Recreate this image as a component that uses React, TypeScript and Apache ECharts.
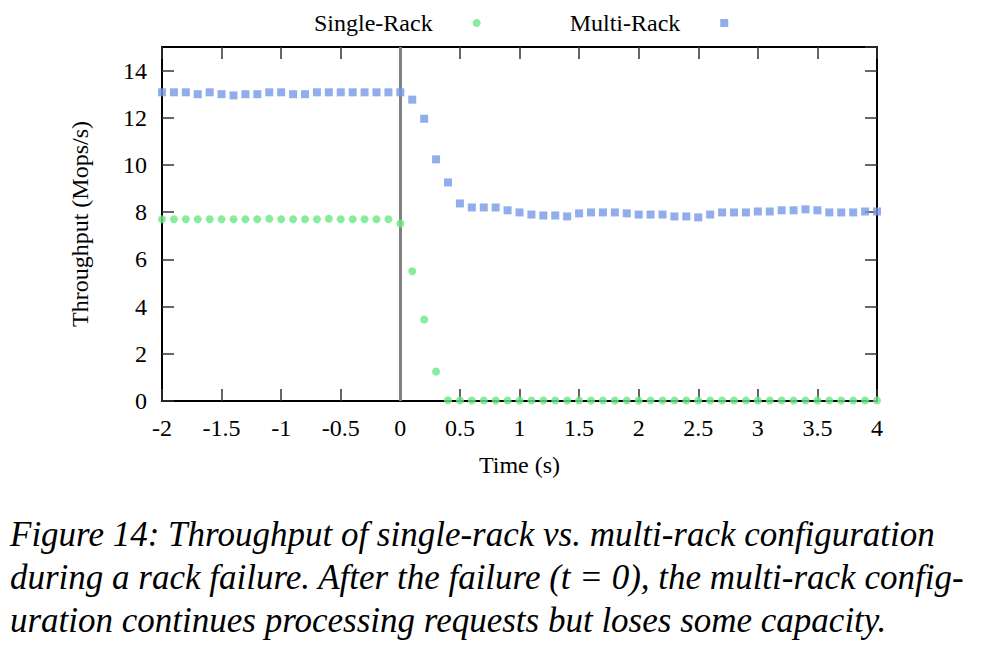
import React, { useEffect, useRef } from "react";
import * as echarts from "echarts";

const times = [
  -2.0, -1.9, -1.8, -1.7, -1.6, -1.5, -1.4, -1.3, -1.2, -1.1,
  -1.0, -0.9, -0.8, -0.7, -0.6, -0.5, -0.4, -0.3, -0.2, -0.1,
  0.0, 0.1, 0.2, 0.3, 0.4, 0.5, 0.6, 0.7, 0.8, 0.9,
  1.0, 1.1, 1.2, 1.3, 1.4, 1.5, 1.6, 1.7, 1.8, 1.9,
  2.0, 2.1, 2.2, 2.3, 2.4, 2.5, 2.6, 2.7, 2.8, 2.9,
  3.0, 3.1, 3.2, 3.3, 3.4, 3.5, 3.6, 3.7, 3.8, 3.9, 4.0,
];

const singleRack = [
  7.7, 7.7, 7.7, 7.7, 7.7, 7.7, 7.7, 7.7, 7.7, 7.72,
  7.7, 7.7, 7.7, 7.7, 7.72, 7.7, 7.7, 7.7, 7.7, 7.7,
  7.52, 5.5, 3.45, 1.25, 0.03, 0.02, 0.02, 0.02, 0.02, 0.02,
  0.02, 0.02, 0.02, 0.02, 0.02, 0.02, 0.02, 0.02, 0.02, 0.02,
  0.02, 0.02, 0.02, 0.02, 0.02, 0.02, 0.02, 0.02, 0.02, 0.02,
  0.02, 0.02, 0.02, 0.02, 0.02, 0.02, 0.02, 0.02, 0.02, 0.02, 0.02,
];

const multiRack = [
  13.08, 13.08, 13.08, 13.0, 13.08, 13.0, 12.95, 13.0, 13.0, 13.08,
  13.08, 13.0, 13.0, 13.08, 13.08, 13.08, 13.08, 13.08, 13.08, 13.08,
  13.08, 12.77, 11.96, 10.24, 9.26, 8.37, 8.2, 8.2, 8.2, 8.08,
  7.99, 7.9, 7.86, 7.86, 7.82, 7.95, 7.99, 7.99, 7.99, 7.95,
  7.9, 7.9, 7.9, 7.82, 7.82, 7.78, 7.9, 7.99, 7.99, 7.99,
  8.03, 8.03, 8.08, 8.08, 8.12, 8.08, 7.99, 7.99, 7.99, 8.03, 8.03,
];

const seriesNames = ["Single-Rack", "Multi-Rack"];
const captionLines = [
  "Figure 14: Throughput of single-rack vs. multi-rack configuration",
  "during a rack failure. After the failure (t = 0), the multi-rack config-",
  "uration continues processing requests but loses some capacity.",
];

const FONT = "'Liberation Serif', 'Times New Roman', serif";
const GREEN = "#69E884";
const BLUE = "#7599E6";
const FS = 24;

export default function App() {
  const ref = useRef<HTMLDivElement>(null);

  useEffect(() => {
    document.body.style.margin = "0";
    if (!ref.current) return;
    const chart = echarts.init(ref.current, null, { renderer: "svg" });

    const frameLine = { show: true, lineStyle: { color: "#000", width: 2 } };
    const tickStyle = { show: true, inside: true, length: 12, lineStyle: { color: "#333", width: 1.5 } };

    const option: any = {
      animation: false,
      backgroundColor: "#fff",
      textStyle: { fontFamily: FONT },
      legend: {
        left: 309,
        top: 6,
        align: "right",
        itemGap: 89,
        itemWidth: 8,
        itemHeight: 8,
        selectedMode: false,
        textStyle: { fontFamily: FONT, fontSize: FS, color: "#000", padding: [0, 35, 0, 0] },
        data: [
          { name: seriesNames[0], icon: "circle" },
          { name: seriesNames[1], icon: "rect" },
        ],
      },
      grid: { left: 162, right: 109, top: 47, bottom: 250 },
      xAxis: [
        {
          type: "value",
          min: -2,
          max: 4,
          interval: 0.5,
          name: "Time (s)",
          nameLocation: "middle",
          nameGap: 52,
          nameTextStyle: { fontFamily: FONT, fontSize: FS, color: "#000" },
          axisLine: { ...frameLine, onZero: false },
          axisTick: tickStyle,
          splitLine: { show: false },
          axisLabel: { fontFamily: FONT, fontSize: FS, color: "#000", margin: 15 },
        },
        {
          type: "value",
          position: "top",
          min: -2,
          max: 4,
          interval: 0.5,
          axisLine: { ...frameLine, onZero: false },
          axisTick: tickStyle,
          splitLine: { show: false },
          axisLabel: { show: false },
        },
      ],
      yAxis: [
        {
          type: "value",
          min: 0,
          max: 15,
          interval: 2,
          name: "Throughput (Mops/s)",
          nameLocation: "middle",
          nameGap: 70,
          nameTextStyle: { fontFamily: FONT, fontSize: FS, color: "#000" },
          axisLine: { ...frameLine, onZero: false },
          axisTick: tickStyle,
          splitLine: { show: false },
          axisLabel: { fontFamily: FONT, fontSize: FS, color: "#000", margin: 15, showMaxLabel: false },
        },
        {
          type: "value",
          position: "right",
          min: 0,
          max: 15,
          interval: 2,
          axisLine: { ...frameLine, onZero: false },
          axisTick: tickStyle,
          splitLine: { show: false },
          axisLabel: { show: false },
        },
      ],
      series: [
        {
          name: seriesNames[0],
          type: "scatter",
          symbol: "circle",
          symbolSize: 8,
          clip: false,
          z: 3,
          itemStyle: { color: GREEN },
          data: times.map((t, i) => [t, singleRack[i]]),
          markLine: {
            silent: true,
            symbol: "none",
            label: { show: false },
            lineStyle: { color: "#808080", width: 3, type: "solid" },
            data: [{ xAxis: 0 }],
            z: 1,
          },
        },
        {
          name: seriesNames[1],
          type: "scatter",
          symbol: "rect",
          symbolSize: 8,
          clip: false,
          z: 3,
          itemStyle: { color: BLUE },
          data: times.map((t, i) => [t, multiRack[i]]),
        },
      ],
      graphic: captionLines.map((line, i) => ({
        type: "text",
        left: 10,
        top: 517 + i * 43,
        style: {
          text: line,
          fontFamily: FONT,
          fontStyle: "italic",
          fontSize: 35,
          fill: "#000",
        },
      })),
    };

    chart.setOption(option);
    return () => chart.dispose();
  }, []);

  return <div ref={ref} style={{ width: 986, height: 651 }} />;
}
